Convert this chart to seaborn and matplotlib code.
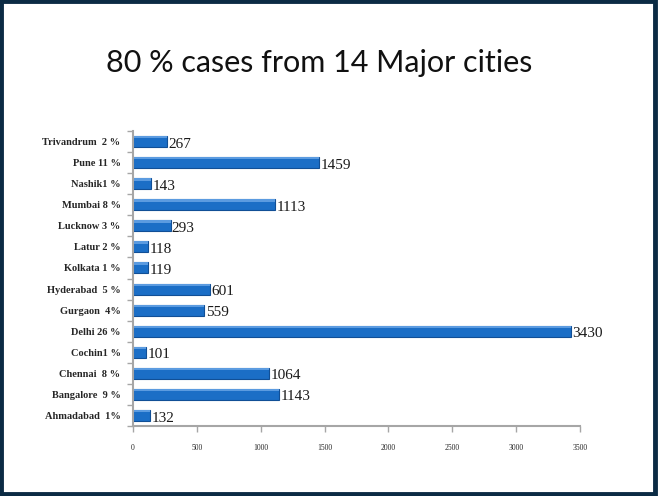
import matplotlib
matplotlib.use("Agg")
import matplotlib.pyplot as plt
import seaborn as sns
import pandas as pd
from matplotlib.patches import Rectangle

# data, top to bottom
cities = ["Trivandrum  2 %", "Pune 11 %", "Nashik1 %", "Mumbai 8 %", "Lucknow 3 %",
          "Latur 2 %", "Kolkata 1 %", "Hyderabad  5 %", "Gurgaon  4%", "Delhi 26 %",
          "Cochin1 %", "Chennai  8 %", "Bangalore  9 %", "Ahmadabad  1%"]
cases = [267, 1459, 143, 1113, 293, 118, 119, 601, 559, 3430, 101, 1064, 1143, 132]
xticks = [0, 500, 1000, 1500, 2000, 2500, 3000, 3500]

df = pd.DataFrame({"city": cities, "cases": cases})

sns.set_style("white")
plt.rcParams["font.family"] = ["Liberation Serif", "DejaVu Serif"]

fig = plt.figure(figsize=(6.59, 4.96), dpi=100)
ax = fig.add_axes([0.202, 0.141, 0.678, 0.595])

sns.barplot(data=df, y="city", x="cases", orient="h", color="#1b6ec6",
            width=0.52, edgecolor="#114f96", linewidth=0.8, saturation=1, ax=ax)

# light strip on top of each bar for the bevelled look
for p in ax.patches:
    ax.add_patch(Rectangle((p.get_x(), p.get_y()), p.get_width(), p.get_height() * 0.22,
                           color="#5b9be0", lw=0, zorder=p.get_zorder() + 0.1))

for i, v in enumerate(cases):
    ax.text(v + 10, i + 0.12, str(v), va="center", ha="left", fontsize=11,
            color="#1a1a1a")

ax.set_xlim(0, 3500)
ax.set_xticks(xticks)
ax.set_xticklabels([str(t) for t in xticks], fontsize=5.5)
ax.set_yticks(range(len(cities)))
ax.set_yticklabels(cities, fontsize=7.5, fontweight="bold")
ax.set_yticks([i + 0.5 for i in range(-1, len(cities))], minor=True)
ax.set_xlabel("")
ax.set_ylabel("")

for side in ["top", "right"]:
    ax.spines[side].set_visible(False)
for side in ["left", "bottom"]:
    ax.spines[side].set_color("#a6a6a6")
    ax.spines[side].set_linewidth(1.5)
ax.tick_params(axis="y", which="major", left=False, length=0, pad=9)
ax.tick_params(axis="y", which="minor", left=True, length=4, color="#a6a6a6", width=1)
ax.tick_params(axis="x", bottom=True, length=4, color="#a6a6a6", width=1, pad=9)

fig.text(0.484, 0.873, "80 % cases from 14 Major cities", ha="center", va="center",
         fontsize=22, family="Lato", color="#111111")

# slide border
fig.patches.append(Rectangle((0.002, 0.004), 0.992, 0.993, transform=fig.transFigure,
                             fill=False, edgecolor="#0b2b44", linewidth=3.5))

fig.savefig("out.png", dpi=100)
